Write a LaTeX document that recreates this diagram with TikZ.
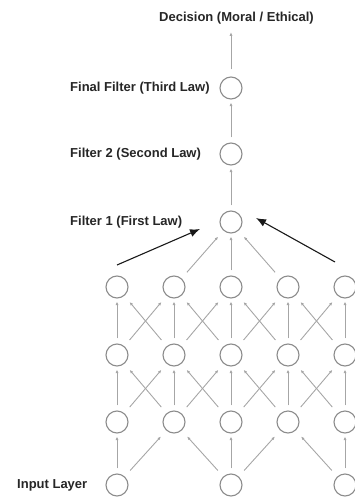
\documentclass[tikz,border=0pt]{standalone}
\usepackage{fontspec}
\setmainfont{Liberation Sans}
\usetikzlibrary{arrows.meta}
\tikzset{
  neuron/.style={circle, draw=black!45, line width=1.1pt, minimum size=22pt, inner sep=0pt},
  lbl/.style={font=\bfseries\fontsize{13}{15}\selectfont, text=black!85, inner sep=0pt},
  link/.style={-{Latex[length=3.5pt,width=3pt]}, draw=black!35, line width=0.9pt,
    shorten <=5pt, shorten >=3pt},
  crosslink/.style={link, shorten <=8pt, shorten >=8pt},
  pointer/.style={-{Latex[length=10pt,width=8pt]}, line width=1.1pt, draw=black!90}
}
\begin{document}
\begin{tikzpicture}[x=1pt,y=-1pt]
      \useasboundingbox (0,0) rectangle (354,500);
      % input layer
      \draw
        (117,485) node[neuron] (in0){}
        (231,485) node[neuron] (in2){}
        (345,485) node[neuron] (in4){};
      % hidden layers
      \draw
        (117,422) node[neuron] (a0){}
        (174,422) node[neuron] (a1){}
        (231,422) node[neuron] (a2){}
        (288,422) node[neuron] (a3){}
        (345,422) node[neuron] (a4){}
        (117,355) node[neuron] (b0){}
        (174,355) node[neuron] (b1){}
        (231,355) node[neuron] (b2){}
        (288,355) node[neuron] (b3){}
        (345,355) node[neuron] (b4){}
        (117,287) node[neuron] (c0){}
        (174,287) node[neuron] (c1){}
        (231,287) node[neuron] (c2){}
        (288,287) node[neuron] (c3){}
        (345,287) node[neuron] (c4){};
      % filters
      \draw
        (231,222) node[neuron] (f1){}
        (231,154) node[neuron] (f2){}
        (231,88) node[neuron] (f3){};
      % labels
      \node[lbl] (decision) at (236.5,18) {Decision (Moral / Ethical)};
      \node[lbl, anchor=west] (f3lbl) at (70,88) {Final Filter (Third Law)};
      \node[lbl, anchor=west] (f2lbl) at (70,154) {Filter 2 (Second Law)};
      \node[lbl, anchor=west] (f1lbl) at (70,222) {Filter 1 (First Law)};
      \node[lbl, anchor=west] (inlbl) at (17,485) {Input Layer};
      \begin{scope}[link]
        \draw (in0) to (a0);
        \draw[crosslink] (in0) to (a1);
        \draw[crosslink] (in2) to (a1);
        \draw (in2) to (a2);
        \draw[crosslink] (in2) to (a3);
        \draw[crosslink] (in4) to (a3);
        \draw (in4) to (a4);
        \draw (a0) to (b0);
        \draw (a1) to (b1);
        \draw (a2) to (b2);
        \draw (a3) to (b3);
        \draw (a4) to (b4);
        \draw[crosslink] (a0) to (b1);
        \draw[crosslink] (a1) to (b0);
        \draw[crosslink] (a1) to (b2);
        \draw[crosslink] (a2) to (b1);
        \draw[crosslink] (a2) to (b3);
        \draw[crosslink] (a3) to (b2);
        \draw[crosslink] (a3) to (b4);
        \draw[crosslink] (a4) to (b3);
        \draw (b0) to (c0);
        \draw (b1) to (c1);
        \draw (b2) to (c2);
        \draw (b3) to (c3);
        \draw (b4) to (c4);
        \draw[crosslink] (b0) to (c1);
        \draw[crosslink] (b1) to (c0);
        \draw[crosslink] (b1) to (c2);
        \draw[crosslink] (b2) to (c1);
        \draw[crosslink] (b2) to (c3);
        \draw[crosslink] (b3) to (c2);
        \draw[crosslink] (b3) to (c4);
        \draw[crosslink] (b4) to (c3);
        \draw[crosslink] (c1) to (f1);
        \draw (c2) to (f1);
        \draw[crosslink] (c3) to (f1);
        \draw (f1) to (f2);
        \draw (f2) to (f3);
        \draw[shorten <=7pt, shorten >=8pt] (f3.north) to (f3.north |- decision.south);
      \end{scope}
      % outside influences
      \coordinate (pushL) at (117,265);
      \coordinate (pushLtip) at (200,229);
      \coordinate (pushR) at (335,262);
      \coordinate (pushRtip) at (256,218);
      \draw[pointer] (pushL) -- (pushLtip);
      \draw[pointer] (pushR) -- (pushRtip);
    \end{tikzpicture}
\end{document}
